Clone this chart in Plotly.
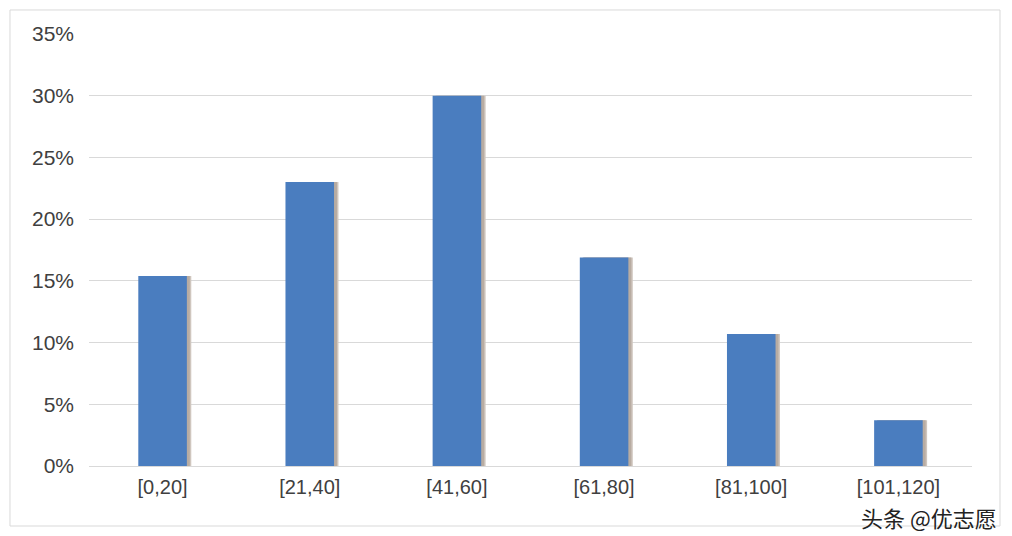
import plotly.graph_objects as go

categories = ["[0,20]", "[21,40]", "[41,60]", "[61,80]", "[81,100]", "[101,120]"]
values = [15.4, 23.0, 30.0, 16.9, 10.7, 3.7]
tick_vals = [0, 5, 10, 15, 20, 25, 30, 35]
tick_text = ["0%", "5%", "10%", "15%", "20%", "25%", "30%", "35%"]

fig = go.Figure()
# soft shadow behind each bar
fig.add_trace(go.Bar(x=categories, y=values, width=0.33, offset=-0.135,
                     marker=dict(color="#cfc6be", line=dict(width=0)),
                     hoverinfo="skip", showlegend=False))
fig.add_trace(go.Bar(x=categories, y=values, width=0.33, offset=-0.145,
                     marker=dict(color="#b8aca2", line=dict(width=0)),
                     hoverinfo="skip", showlegend=False))
fig.add_trace(go.Bar(x=categories, y=values, width=0.33, offset=-0.165,
                     marker=dict(color="#4a7dbf", line=dict(width=0)),
                     showlegend=False))

fig.update_layout(
    width=1004, height=528,
    margin=dict(l=81, r=40, t=26, b=70),
    paper_bgcolor="white", plot_bgcolor="white",
    barmode="overlay",
    font=dict(family="Liberation Sans, Noto Sans, sans-serif", color="#404040"),
    xaxis=dict(showgrid=False, showline=False, ticks="", ticklabelstandoff=7,
               tickfont=dict(size=20, color="#404040")),
    yaxis=dict(range=[0, 35], tickvals=tick_vals, ticktext=tick_text,
               showgrid=True, gridcolor="#d9d9d9", gridwidth=1,
               zeroline=True, zerolinecolor="#d9d9d9", zerolinewidth=1,
               ticks="", ticklabelstandoff=14,
               tickfont=dict(size=21, color="#404040")),
    shapes=[dict(type="rect", xref="paper", yref="paper",
                 x0=-0.0895, x1=1.0317, y0=-0.1389, y1=1.0556,
                 line=dict(color="#d9d9d9", width=1), layer="below")],
    annotations=[dict(text="头条 @优志愿", xref="paper", yref="paper",
                      x=1.0294, y=-0.158, xanchor="right", yanchor="bottom",
                      showarrow=False, borderpad=0,
                      font=dict(family="Noto Sans CJK SC", size=22, color="#222222"))],
)

fig.write_html("out.html")
